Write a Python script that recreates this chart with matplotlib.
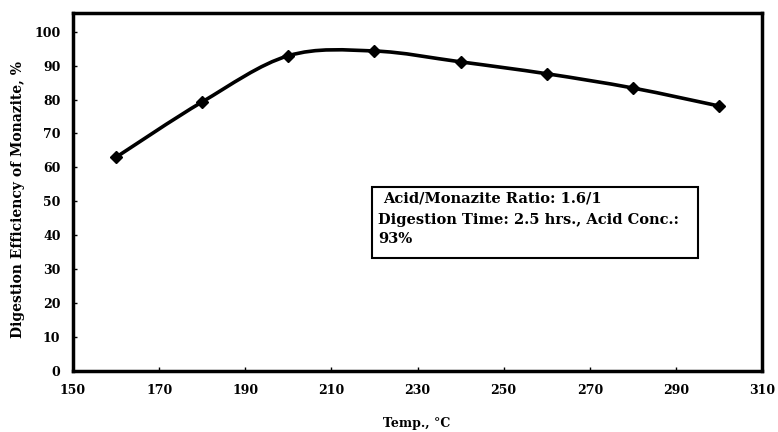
import matplotlib
matplotlib.use("Agg")
import matplotlib.pyplot as plt
from matplotlib.path import Path
from matplotlib.patches import PathPatch
import numpy as np

temps = [160, 180, 200, 220, 240, 260, 280, 300]
efficiency = [63.0, 79.3, 92.9, 94.3, 91.1, 87.6, 83.4, 78.1]
x_ticks = [150, 170, 190, 210, 230, 250, 270, 290, 310]
y_ticks = [0, 10, 20, 30, 40, 50, 60, 70, 80, 90, 100]

plt.rcParams['font.family'] = ['DejaVu Serif']
plt.rcParams['font.weight'] = 'bold'

fig = plt.figure(figsize=(7.78, 4.32), dpi=100)
ax = fig.add_axes([73/778, 1-371/432, (762-73)/778, (371-13)/432])
ax.set_xlim(150, 310)
ax.set_ylim(0, 105.5)

# smoothed line (Catmull-Rom style Bezier, like spreadsheet smoothing)
xs = np.array(temps, float)
ys = np.array(efficiency, float)
verts = [(xs[0], ys[0])]
codes = [Path.MOVETO]
n = len(xs)
for i in range(n - 1):
    p0 = (xs[max(i-1, 0)], ys[max(i-1, 0)])
    p1 = (xs[i], ys[i])
    p2 = (xs[i+1], ys[i+1])
    p3 = (xs[min(i+2, n-1)], ys[min(i+2, n-1)])
    c1 = (p1[0] + (p2[0]-p0[0])/6, p1[1] + (p2[1]-p0[1])/6)
    c2 = (p2[0] - (p3[0]-p1[0])/6, p2[1] - (p3[1]-p1[1])/6)
    verts += [c1, c2, p2]
    codes += [Path.CURVE4]*3
ax.add_patch(PathPatch(Path(verts, codes), fill=False, lw=2.6, color='black', zorder=3))
ax.plot(temps, efficiency, linestyle='none', marker='D', ms=6, color='black', zorder=4)

ax.set_xticks(x_ticks)
ax.set_yticks(y_ticks)
ax.tick_params(direction='in', length=3, width=1, labelsize=9, pad=9)
for lab in ax.get_xticklabels() + ax.get_yticklabels():
    lab.set_fontweight('bold')
for s in ax.spines.values():
    s.set_linewidth(2.5)

fig.text(417/778, 1-423/432, 'Temp., °C', fontsize=9, fontweight='bold', ha='center', va='center')
fig.text(18/778, 1-200/432, 'Digestion Efficiency of Monazite, %', fontsize=10, fontweight='bold',
         ha='center', va='center', rotation=90)

box_x0, box_x1 = 372, 698
box_y0, box_y1 = 187, 258
fig.patches.append(plt.Rectangle((box_x0/778, 1-box_y1/432), (box_x1-box_x0)/778, (box_y1-box_y0)/432,
                                 transform=fig.transFigure, fill=False, lw=1.5, ec='black', zorder=5))
fig.text(383/778, 1-199/432, 'Acid/Monazite Ratio: 1.6/1', fontsize=10.5, fontweight='bold', va='center', ha='left')
fig.text(378/778, 1-220/432, 'Digestion Time: 2.5 hrs., Acid Conc.:', fontsize=10.5, fontweight='bold', va='center', ha='left')
fig.text(378/778, 1-239/432, '93%', fontsize=10.5, fontweight='bold', va='center', ha='left')

fig.savefig('out.png', dpi=100)
